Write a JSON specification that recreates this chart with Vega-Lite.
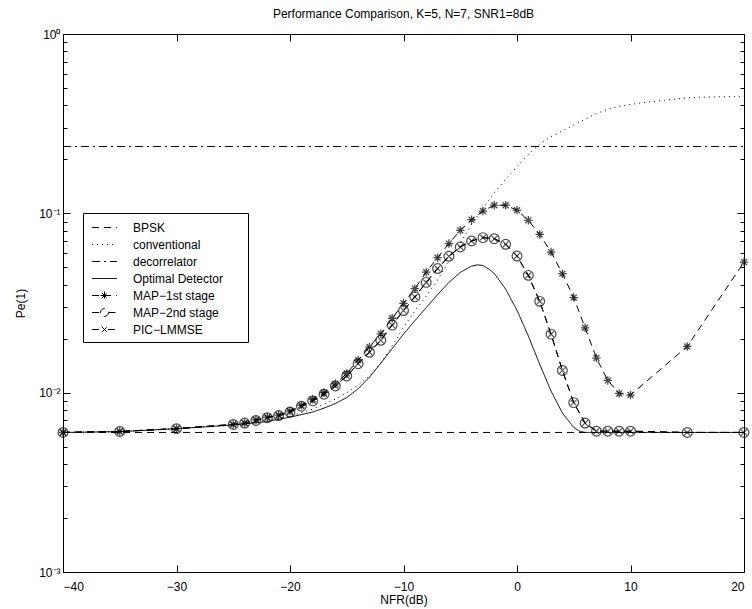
{
  "$schema": "https://vega.github.io/schema/vega-lite/v6.json",
  "width": 681,
  "height": 538,
  "autosize": {"type": "none"},
  "padding": {"left": 63, "top": 34, "right": 8, "bottom": 37},
  "background": "white",
  "title": {"text": "Performance Comparison, K=5, N=7, SNR1=8dB", "font": "Liberation Sans", "fontSize": 12, "fontWeight": "normal", "color": "black", "anchor": "middle", "offset": 7},
  "config": {
    "view": {"stroke": null},
    "axis": {"grid": false, "domainColor": "black", "domainWidth": 1, "tickColor": "black", "tickWidth": 1, "labelColor": "black", "titleColor": "black", "labelFont": "Liberation Sans", "titleFont": "Liberation Sans", "labelFontSize": 12, "titleFontSize": 12, "titleFontWeight": "normal"}
  },
  "data": {"values": [
    {"series": "BPSK", "x": -40, "y": 0.006}, {"series": "BPSK", "x": 20, "y": 0.006},
    {"series": "decorrelator", "x": -40, "y": 0.236}, {"series": "decorrelator", "x": 20, "y": 0.236},
    {"series": "conventional", "x": -40, "y": 0.006}, {"series": "conventional", "x": -35, "y": 0.00606}, {"series": "conventional", "x": -30, "y": 0.0063}, {"series": "conventional", "x": -25, "y": 0.0066}, {"series": "conventional", "x": -22, "y": 0.007}, {"series": "conventional", "x": -20, "y": 0.0074}, {"series": "conventional", "x": -18, "y": 0.0081}, {"series": "conventional", "x": -16, "y": 0.0092}, {"series": "conventional", "x": -15, "y": 0.01}, {"series": "conventional", "x": -14, "y": 0.011}, {"series": "conventional", "x": -13, "y": 0.0124}, {"series": "conventional", "x": -12, "y": 0.0146}, {"series": "conventional", "x": -11, "y": 0.0182}, {"series": "conventional", "x": -10, "y": 0.0232}, {"series": "conventional", "x": -9, "y": 0.0285}, {"series": "conventional", "x": -8, "y": 0.0345}, {"series": "conventional", "x": -7, "y": 0.0425}, {"series": "conventional", "x": -6, "y": 0.054}, {"series": "conventional", "x": -5, "y": 0.068}, {"series": "conventional", "x": -4, "y": 0.087}, {"series": "conventional", "x": -3, "y": 0.107}, {"series": "conventional", "x": -2, "y": 0.13}, {"series": "conventional", "x": -1, "y": 0.155}, {"series": "conventional", "x": 0, "y": 0.182}, {"series": "conventional", "x": 1, "y": 0.213}, {"series": "conventional", "x": 2, "y": 0.243}, {"series": "conventional", "x": 3, "y": 0.268}, {"series": "conventional", "x": 4, "y": 0.288}, {"series": "conventional", "x": 5, "y": 0.31}, {"series": "conventional", "x": 6, "y": 0.335}, {"series": "conventional", "x": 7, "y": 0.36}, {"series": "conventional", "x": 8, "y": 0.38}, {"series": "conventional", "x": 9, "y": 0.395}, {"series": "conventional", "x": 10, "y": 0.405}, {"series": "conventional", "x": 11, "y": 0.413}, {"series": "conventional", "x": 12, "y": 0.42}, {"series": "conventional", "x": 13, "y": 0.427}, {"series": "conventional", "x": 14, "y": 0.434}, {"series": "conventional", "x": 15, "y": 0.44}, {"series": "conventional", "x": 16, "y": 0.444}, {"series": "conventional", "x": 18, "y": 0.447}, {"series": "conventional", "x": 20, "y": 0.447},
    {"series": "Optimal Detector", "x": -40, "y": 0.006}, {"series": "Optimal Detector", "x": -35, "y": 0.00606}, {"series": "Optimal Detector", "x": -30, "y": 0.0063}, {"series": "Optimal Detector", "x": -25, "y": 0.0066}, {"series": "Optimal Detector", "x": -22, "y": 0.0069}, {"series": "Optimal Detector", "x": -20, "y": 0.0073}, {"series": "Optimal Detector", "x": -18, "y": 0.0078}, {"series": "Optimal Detector", "x": -17, "y": 0.0082}, {"series": "Optimal Detector", "x": -16, "y": 0.0087}, {"series": "Optimal Detector", "x": -15, "y": 0.0094}, {"series": "Optimal Detector", "x": -14, "y": 0.0105}, {"series": "Optimal Detector", "x": -13, "y": 0.0122}, {"series": "Optimal Detector", "x": -12, "y": 0.0146}, {"series": "Optimal Detector", "x": -11, "y": 0.0176}, {"series": "Optimal Detector", "x": -10, "y": 0.0212}, {"series": "Optimal Detector", "x": -9, "y": 0.0252}, {"series": "Optimal Detector", "x": -8, "y": 0.0298}, {"series": "Optimal Detector", "x": -7, "y": 0.0352}, {"series": "Optimal Detector", "x": -6, "y": 0.0412}, {"series": "Optimal Detector", "x": -5, "y": 0.0468}, {"series": "Optimal Detector", "x": -4, "y": 0.0508}, {"series": "Optimal Detector", "x": -3.5, "y": 0.0516}, {"series": "Optimal Detector", "x": -3, "y": 0.0512}, {"series": "Optimal Detector", "x": -2.5, "y": 0.049}, {"series": "Optimal Detector", "x": -2, "y": 0.0462}, {"series": "Optimal Detector", "x": -1, "y": 0.0378}, {"series": "Optimal Detector", "x": 0, "y": 0.0288}, {"series": "Optimal Detector", "x": 1, "y": 0.0207}, {"series": "Optimal Detector", "x": 2, "y": 0.0144}, {"series": "Optimal Detector", "x": 3, "y": 0.0102}, {"series": "Optimal Detector", "x": 4, "y": 0.0077}, {"series": "Optimal Detector", "x": 5, "y": 0.0064}, {"series": "Optimal Detector", "x": 5.5, "y": 0.0061}, {"series": "Optimal Detector", "x": 6, "y": 0.006}, {"series": "Optimal Detector", "x": 20, "y": 0.006},
    {"series": "MAP−1st stage", "x": -40, "y": 0.006}, {"series": "MAP−1st stage", "x": -35, "y": 0.00608}, {"series": "MAP−1st stage", "x": -30, "y": 0.0063}, {"series": "MAP−1st stage", "x": -25, "y": 0.00665}, {"series": "MAP−1st stage", "x": -24, "y": 0.00677}, {"series": "MAP−1st stage", "x": -23, "y": 0.00705}, {"series": "MAP−1st stage", "x": -22, "y": 0.0073}, {"series": "MAP−1st stage", "x": -21, "y": 0.0075}, {"series": "MAP−1st stage", "x": -20, "y": 0.0079}, {"series": "MAP−1st stage", "x": -19, "y": 0.0085}, {"series": "MAP−1st stage", "x": -18, "y": 0.0092}, {"series": "MAP−1st stage", "x": -17, "y": 0.01}, {"series": "MAP−1st stage", "x": -16, "y": 0.0112}, {"series": "MAP−1st stage", "x": -15, "y": 0.0128}, {"series": "MAP−1st stage", "x": -14, "y": 0.0152}, {"series": "MAP−1st stage", "x": -13, "y": 0.018}, {"series": "MAP−1st stage", "x": -12, "y": 0.0213}, {"series": "MAP−1st stage", "x": -11, "y": 0.026}, {"series": "MAP−1st stage", "x": -10, "y": 0.0315}, {"series": "MAP−1st stage", "x": -9, "y": 0.038}, {"series": "MAP−1st stage", "x": -8, "y": 0.047}, {"series": "MAP−1st stage", "x": -7, "y": 0.0566}, {"series": "MAP−1st stage", "x": -6, "y": 0.0678}, {"series": "MAP−1st stage", "x": -5, "y": 0.0804}, {"series": "MAP−1st stage", "x": -4, "y": 0.0922}, {"series": "MAP−1st stage", "x": -3, "y": 0.103}, {"series": "MAP−1st stage", "x": -2, "y": 0.111}, {"series": "MAP−1st stage", "x": -1, "y": 0.111}, {"series": "MAP−1st stage", "x": 0, "y": 0.104}, {"series": "MAP−1st stage", "x": 1, "y": 0.0914}, {"series": "MAP−1st stage", "x": 2, "y": 0.0763}, {"series": "MAP−1st stage", "x": 3, "y": 0.0608}, {"series": "MAP−1st stage", "x": 4, "y": 0.0461}, {"series": "MAP−1st stage", "x": 5, "y": 0.0339}, {"series": "MAP−1st stage", "x": 6, "y": 0.023}, {"series": "MAP−1st stage", "x": 7, "y": 0.0156}, {"series": "MAP−1st stage", "x": 8, "y": 0.0117}, {"series": "MAP−1st stage", "x": 9, "y": 0.0099}, {"series": "MAP−1st stage", "x": 10, "y": 0.0097}, {"series": "MAP−1st stage", "x": 15, "y": 0.0181}, {"series": "MAP−1st stage", "x": 20, "y": 0.0535},
    {"series": "MAP−2nd stage", "x": -40, "y": 0.006}, {"series": "MAP−2nd stage", "x": -35, "y": 0.00608}, {"series": "MAP−2nd stage", "x": -30, "y": 0.0063}, {"series": "MAP−2nd stage", "x": -25, "y": 0.00665}, {"series": "MAP−2nd stage", "x": -24, "y": 0.00677}, {"series": "MAP−2nd stage", "x": -23, "y": 0.007}, {"series": "MAP−2nd stage", "x": -22, "y": 0.00725}, {"series": "MAP−2nd stage", "x": -21, "y": 0.00745}, {"series": "MAP−2nd stage", "x": -20, "y": 0.0078}, {"series": "MAP−2nd stage", "x": -19, "y": 0.0084}, {"series": "MAP−2nd stage", "x": -18, "y": 0.009}, {"series": "MAP−2nd stage", "x": -17, "y": 0.0098}, {"series": "MAP−2nd stage", "x": -16, "y": 0.0109}, {"series": "MAP−2nd stage", "x": -15, "y": 0.0124}, {"series": "MAP−2nd stage", "x": -14, "y": 0.0145}, {"series": "MAP−2nd stage", "x": -13, "y": 0.0168}, {"series": "MAP−2nd stage", "x": -12, "y": 0.0196}, {"series": "MAP−2nd stage", "x": -11, "y": 0.0238}, {"series": "MAP−2nd stage", "x": -10, "y": 0.0287}, {"series": "MAP−2nd stage", "x": -9, "y": 0.0342}, {"series": "MAP−2nd stage", "x": -8, "y": 0.0412}, {"series": "MAP−2nd stage", "x": -7, "y": 0.0492}, {"series": "MAP−2nd stage", "x": -6, "y": 0.0576}, {"series": "MAP−2nd stage", "x": -5, "y": 0.0649}, {"series": "MAP−2nd stage", "x": -4, "y": 0.0701}, {"series": "MAP−2nd stage", "x": -3, "y": 0.0732}, {"series": "MAP−2nd stage", "x": -2, "y": 0.0722}, {"series": "MAP−2nd stage", "x": -1, "y": 0.0672}, {"series": "MAP−2nd stage", "x": 0, "y": 0.0578}, {"series": "MAP−2nd stage", "x": 1, "y": 0.0451}, {"series": "MAP−2nd stage", "x": 2, "y": 0.0323}, {"series": "MAP−2nd stage", "x": 3, "y": 0.0212}, {"series": "MAP−2nd stage", "x": 4, "y": 0.0133}, {"series": "MAP−2nd stage", "x": 5, "y": 0.0088}, {"series": "MAP−2nd stage", "x": 6, "y": 0.00677}, {"series": "MAP−2nd stage", "x": 7, "y": 0.0061}, {"series": "MAP−2nd stage", "x": 8, "y": 0.0061}, {"series": "MAP−2nd stage", "x": 9, "y": 0.0061}, {"series": "MAP−2nd stage", "x": 10, "y": 0.0061}, {"series": "MAP−2nd stage", "x": 15, "y": 0.006}, {"series": "MAP−2nd stage", "x": 20, "y": 0.006},
    {"series": "PIC−LMMSE", "x": -40, "y": 0.006}, {"series": "PIC−LMMSE", "x": -35, "y": 0.00608}, {"series": "PIC−LMMSE", "x": -30, "y": 0.0063}, {"series": "PIC−LMMSE", "x": -25, "y": 0.00665}, {"series": "PIC−LMMSE", "x": -24, "y": 0.00677}, {"series": "PIC−LMMSE", "x": -23, "y": 0.007}, {"series": "PIC−LMMSE", "x": -22, "y": 0.00725}, {"series": "PIC−LMMSE", "x": -21, "y": 0.00745}, {"series": "PIC−LMMSE", "x": -20, "y": 0.0078}, {"series": "PIC−LMMSE", "x": -19, "y": 0.0084}, {"series": "PIC−LMMSE", "x": -18, "y": 0.009}, {"series": "PIC−LMMSE", "x": -17, "y": 0.0098}, {"series": "PIC−LMMSE", "x": -16, "y": 0.0109}, {"series": "PIC−LMMSE", "x": -15, "y": 0.0124}, {"series": "PIC−LMMSE", "x": -14, "y": 0.0145}, {"series": "PIC−LMMSE", "x": -13, "y": 0.0168}, {"series": "PIC−LMMSE", "x": -12, "y": 0.0196}, {"series": "PIC−LMMSE", "x": -11, "y": 0.0238}, {"series": "PIC−LMMSE", "x": -10, "y": 0.0287}, {"series": "PIC−LMMSE", "x": -9, "y": 0.0342}, {"series": "PIC−LMMSE", "x": -8, "y": 0.0412}, {"series": "PIC−LMMSE", "x": -7, "y": 0.0492}, {"series": "PIC−LMMSE", "x": -6, "y": 0.0576}, {"series": "PIC−LMMSE", "x": -5, "y": 0.0649}, {"series": "PIC−LMMSE", "x": -4, "y": 0.0701}, {"series": "PIC−LMMSE", "x": -3, "y": 0.0732}, {"series": "PIC−LMMSE", "x": -2, "y": 0.0722}, {"series": "PIC−LMMSE", "x": -1, "y": 0.0672}, {"series": "PIC−LMMSE", "x": 0, "y": 0.0578}, {"series": "PIC−LMMSE", "x": 1, "y": 0.0451}, {"series": "PIC−LMMSE", "x": 2, "y": 0.0323}, {"series": "PIC−LMMSE", "x": 3, "y": 0.0212}, {"series": "PIC−LMMSE", "x": 4, "y": 0.0133}, {"series": "PIC−LMMSE", "x": 5, "y": 0.0088}, {"series": "PIC−LMMSE", "x": 6, "y": 0.00677}, {"series": "PIC−LMMSE", "x": 7, "y": 0.0061}, {"series": "PIC−LMMSE", "x": 8, "y": 0.0061}, {"series": "PIC−LMMSE", "x": 9, "y": 0.0061}, {"series": "PIC−LMMSE", "x": 10, "y": 0.0061}, {"series": "PIC−LMMSE", "x": 15, "y": 0.006}, {"series": "PIC−LMMSE", "x": 20, "y": 0.006}
  ]},
  "layer": [
    {
      "mark": {"type": "line", "color": "black", "strokeWidth": 1},
      "encoding": {
        "x": {"field": "x", "type": "quantitative", "scale": {"domain": [-40, 20], "nice": false, "zero": false},
              "axis": {"orient": "bottom", "values": [-40, -30, -20, -10, 0, 10, 20], "tickSize": -7, "labelPadding": 16, "title": "NFR(dB)", "titlePadding": 2}},
        "y": {"field": "y", "type": "quantitative", "scale": {"type": "log", "domain": [0.001, 1], "nice": false},
              "axis": {"orient": "left", "values": [0.001, 0.002, 0.003, 0.004, 0.005, 0.006, 0.007, 0.008, 0.009, 0.01, 0.02, 0.03, 0.04, 0.05, 0.06, 0.07, 0.08, 0.09, 0.1, 0.2, 0.3, 0.4, 0.5, 0.6, 0.7, 0.8, 0.9, 1],
                       "labelExpr": "datum.value == 1 ? '10⁰' : datum.value == 0.1 ? '10⁻¹' : datum.value == 0.01 ? '10⁻²' : datum.value == 0.001 ? '10⁻³' : ''",
                       "tickSize": {"condition": {"test": "datum.value == 1 || datum.value == 0.1 || datum.value == 0.01 || datum.value == 0.001", "value": -7}, "value": -4},
                       "labelPadding": 10, "title": "Pe(1)", "titlePadding": 11}},
        "strokeDash": {"field": "series", "type": "nominal",
          "scale": {"domain": ["BPSK", "conventional", "decorrelator", "Optimal Detector", "MAP−1st stage", "MAP−2nd stage", "PIC−LMMSE"],
                    "range": [[7, 5], [1, 4], [8, 4, 2, 4], [1, 0], [7, 5], [7, 5], [7, 5]]},
          "legend": {"orient": "none", "legendX": 20, "legendY": 179, "title": null, "strokeColor": "black", "fillColor": "white", "padding": 6, "rowPadding": 2,
                     "labelFont": "Liberation Sans", "labelFontSize": 12, "labelColor": "black", "labelOffset": 20, "labelLimit": 300,
                     "labelExpr": "datum.label + '\u2800\u2800'",
                     "symbolSize": 256, "symbolOffset": 7, "symbolStrokeWidth": 1, "symbolStrokeColor": "black", "symbolFillColor": "transparent",
                     "encode": {"symbols": {"update": {
                        "strokeDash": {"signal": "datum.value == 'BPSK' ? [9, 7] : datum.value == 'conventional' ? [1, 3] : datum.value == 'decorrelator' ? [6, 3, 1, 3] : [1, 0]"},
                        "shape": {"signal": "datum.value == 'MAP−1st stage' ? 'M-1.55,0L1.55,0M0,-0.5L0,0.5M-0.5,0L0.5,0M-0.35,-0.35L0.35,0.35M-0.35,0.35L0.35,-0.35' : datum.value == 'MAP−2nd stage' ? 'M-1.55,0L-0.5,0M0.5,0L1.55,0M0.5,0L0.433,0.25L0.25,0.433L0,0.5L-0.25,0.433L-0.433,0.25L-0.5,0L-0.433,-0.25L-0.25,-0.433L0,-0.5L0.25,-0.433L0.433,-0.25Z' : datum.value == 'PIC−LMMSE' ? 'M-1.55,0L-0.45,0M0.45,0L1.55,0M-0.35,-0.35L0.35,0.35M-0.35,0.35L0.35,-0.35' : 'M-1.55,0L1.55,0'"},
                        "stroke": {"value": "black"},
                        "fill": {"value": "transparent"}
                     }}}}
        }
      }
    },
    {
      "transform": [{"filter": "datum.series == 'MAP−1st stage'"}],
      "mark": {"type": "point", "shape": "M0,-1L0,1M-1,0L1,0M-0.7,-0.7L0.7,0.7M-0.7,0.7L0.7,-0.7", "size": 72, "filled": false, "stroke": "black", "strokeWidth": 1.3},
      "encoding": {
        "x": {"field": "x", "type": "quantitative", "axis": {"orient": "top", "values": [-40, -30, -20, -10, 0, 10, 20], "tickSize": -7, "labels": false, "title": null}},
        "y": {"field": "y", "type": "quantitative", "axis": {"orient": "right", "values": [0.001, 0.002, 0.003, 0.004, 0.005, 0.006, 0.007, 0.008, 0.009, 0.01, 0.02, 0.03, 0.04, 0.05, 0.06, 0.07, 0.08, 0.09, 0.1, 0.2, 0.3, 0.4, 0.5, 0.6, 0.7, 0.8, 0.9, 1],
              "tickSize": {"condition": {"test": "datum.value == 1 || datum.value == 0.1 || datum.value == 0.01 || datum.value == 0.001", "value": -7}, "value": -4},
              "labels": false, "title": null}}
      }
    },
    {
      "transform": [{"filter": "datum.series == 'MAP−2nd stage'"}],
      "mark": {"type": "point", "shape": "circle", "size": 95, "filled": false, "stroke": "black", "strokeWidth": 1.2},
      "encoding": {
        "x": {"field": "x", "type": "quantitative", "axis": null},
        "y": {"field": "y", "type": "quantitative", "axis": null}
      }
    },
    {
      "transform": [{"filter": "datum.series == 'PIC−LMMSE'"}],
      "mark": {"type": "point", "shape": "M-0.6,-0.6L0.6,0.6M-0.6,0.6L0.6,-0.6", "size": 90, "filled": false, "stroke": "black", "strokeWidth": 1.1},
      "encoding": {
        "x": {"field": "x", "type": "quantitative", "axis": null},
        "y": {"field": "y", "type": "quantitative", "axis": null}
      }
    }
  ],
  "resolve": {"axis": {"x": "independent", "y": "independent"}}
}
